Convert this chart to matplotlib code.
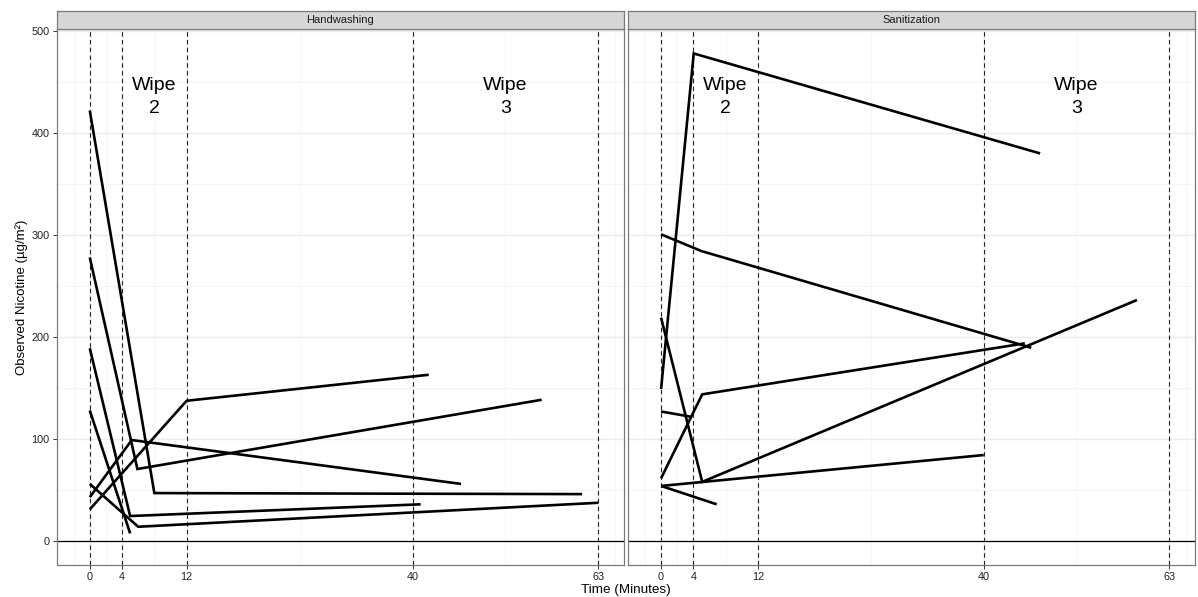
import matplotlib
matplotlib.use("Agg")
import matplotlib.pyplot as plt

plt.rcParams['font.family'] = ['Liberation Sans', 'DejaVu Sans']

# facet names
panels = ["Handwashing", "Sanitization"]

# one list per subject: wipe times (minutes) and observed nicotine (ug/m2)
hw_times = [[0, 8.0, 61.0], [0, 5.9, 56.0], [0, 5.0, 41.0], [0, 5.0],
            [0, 6.0, 63.0], [0, 5.2, 46.0], [0, 12.0, 42.0]]
hw_values = [[422, 47, 46], [278, 70.6, 138.5], [189, 24.5, 36], [128, 7.5],
             [56, 14, 37.5], [43, 99, 56], [31, 137.5, 163]]

san_times = [[0, 4.05, 47.0], [0, 5.0, 45.9], [0, 5.1, 59.0], [0, 3.6],
             [0, 5.1, 45.1], [0, 6.9], [0, 40.0]]
san_values = [[149, 478, 380], [300.7, 284.3, 189.5], [219, 58, 236.3], [127, 122],
              [61.5, 143.8, 193.8], [54, 36], [54, 84.3]]

# wipe boundaries and tick labels
wipe_marks = [0, 4, 12, 40, 63]
y_ticks = [0, 100, 200, 300, 400, 500]
x_minor = [-2, 2, 8, 26, 51.5, 65.1]
y_minor = [50, 150, 250, 350, 450]
wipe_labels = ["Wipe\n2", "Wipe\n3"]
wipe_label_x = [8, 51.5]

W, H = 1198, 597
fig = plt.figure(figsize=(W / 100, H / 100), dpi=100)

def px_box(l, t, r, b):
    return [l / W, 1 - b / H, (r - l) / W, (b - t) / H]

panel_px = [(56.7, 29.3, 624.0, 565.0), (628.0, 29.3, 1195.0, 565.0)]
data = [(hw_times, hw_values), (san_times, san_values)]

for i, (name, (times, values)) in enumerate(zip(panels, data)):
    l, t, r, b = panel_px[i]
    ax = fig.add_axes(px_box(l, t, r, b))
    ax.set_xlim(-4.1, 66.2)
    ax.set_ylim(-23.5, 501.7)

    for x in x_minor:
        ax.axvline(x, color="#F2F2F2", lw=0.5, zorder=0)
    for y in y_minor:
        ax.axhline(y, color="#F2F2F2", lw=0.5, zorder=0)
    for x in wipe_marks:
        ax.axvline(x, color="#EBEBEB", lw=1.0, zorder=0)
    for y in y_ticks:
        ax.axhline(y, color="#EBEBEB", lw=1.0, zorder=0)

    ax.axhline(0, color="black", lw=0.9, zorder=2)
    for x in wipe_marks:
        ax.axvline(x, color="#222222", lw=0.8, ls=(0, (4, 3)), zorder=2)

    for tx, vy in zip(times, values):
        ax.plot(tx, vy, color="black", lw=1.9, solid_capstyle="butt",
                solid_joinstyle="miter", zorder=3)

    for lab, lx in zip(wipe_labels, wipe_label_x):
        ax.text(lx, 435, lab, ha="center", va="center", fontsize=14,
                linespacing=1.45, zorder=4)

    ax.set_xticks(wipe_marks)
    ax.set_xticklabels([str(m) for m in wipe_marks])
    ax.set_yticks(y_ticks)
    if i == 0:
        ax.set_yticklabels([str(v) for v in y_ticks])
    else:
        ax.tick_params(axis="y", left=False, labelleft=False)
    ax.tick_params(length=3, width=0.7, color="#333333", labelsize=7.8,
                   labelcolor="#222222", pad=2)
    for s in ax.spines.values():
        s.set_color("#7A7A7A")
        s.set_linewidth(0.9)

    sax = fig.add_axes(px_box(l, 10.7, r, 29.3))
    sax.set_facecolor("#D6D6D6")
    sax.set_xticks([])
    sax.set_yticks([])
    for s in sax.spines.values():
        s.set_color("#7A7A7A")
        s.set_linewidth(0.9)
    sax.text(0.5, 0.48, name, transform=sax.transAxes, ha="center",
             va="center", fontsize=8, color="#1A1A1A")

fig.text(626 / W, 1 - 590 / H, "Time (Minutes)", ha="center", va="center",
         fontsize=9.7)
fig.text(22 / W, 1 - 297 / H, "Observed Nicotine (µg/m²)", ha="center",
         va="center", rotation=90, fontsize=9.5)

fig.savefig("out.png", dpi=100)
